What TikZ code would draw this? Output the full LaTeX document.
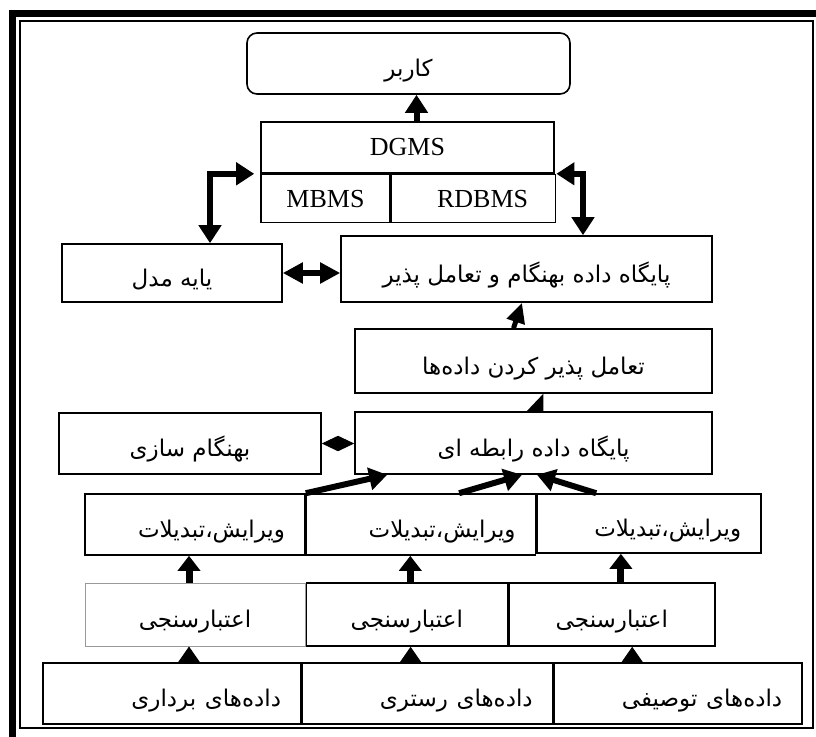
\documentclass[tikz,border=0pt]{standalone}
\usepackage{fontspec}
\setmainfont{Liberation Serif}
\newfontfamily\arabicfont[Script=Arabic]{DejaVu Sans}
\TeXXeTstate=1
\usetikzlibrary{positioning,arrows.meta}
\newcommand{\fa}[1]{\raisebox{-13pt}[0pt][0pt]{\arabicfont\fontsize{23}{27}\selectfont\beginR #1\endR}}
\tikzstyle{boxed} = [rectangle, draw=black, line width=1.6pt, inner sep=0pt, text centered, font=\fontsize{26}{30}\selectfont]
\tikzstyle{rightbox} = [boxed, inner xsep=20pt, align=right]
\tikzstyle{connect} = [line width=6pt,-{Triangle[width=22pt,length=18pt]}]
\tikzstyle{vconnect} = [line width=7pt,-{Triangle[width=22pt,length=15pt]}]
\tikzstyle{biconnect} = [line width=6pt,{Triangle[width=22pt,length=18pt]}-{Triangle[width=22pt,length=18pt]}]
\tikzstyle{headonly} = [line width=1pt,-{Triangle[width=22pt,length=16pt]}]

\begin{document}
\begin{tikzpicture}[x=1pt,y=-1pt]
\path[use as bounding box, clip] (0,0) rectangle (816,736);
% frame
\draw[line width=7pt] (12,13.5) rectangle (830,750);
\draw[line width=2pt] (20,21) rectangle (813,728);
%-----------------------------------------------
\node (user) [boxed, rounded corners=10pt, minimum width=323pt, minimum height=61pt] at (408.5,63.5) {\fa{کاربر}};
\node (dgms) [boxed, minimum width=293pt, minimum height=51pt] at (407.5,147.5) {DGMS};
\node (mbms) [boxed, minimum width=129pt, minimum height=48pt, anchor=north west] at (dgms.south west) {MBMS};
\node (rdbms) [boxed, minimum width=164pt, minimum height=48pt, right=0pt of mbms] {\hspace*{18pt}RDBMS};
%-----------------------------------------------
\node (model) [boxed, minimum width=220pt, minimum height=58pt] at (172,273) {\fa{یایه مدل}};
\node (syncdb) [boxed, minimum width=371pt, minimum height=66pt] at (526.5,269) {\fa{پایگاه داده بهنگام و تعامل پذیر}};
\node (interop) [boxed, minimum width=357pt, minimum height=64pt] at (533.5,361) {\fa{تعامل پذیر کردن داده‌ها}};
%-----------------------------------------------
\node (relational) [boxed, minimum width=357pt, minimum height=62pt] at (533.5,443) {\fa{پایگاه داده رابطه ای}};
\node (updating) [boxed, minimum width=262pt, minimum height=61pt] at (190,443.5) {\fa{بهنگام سازی}};
%-----------------------------------------------
\node (edit1) [rightbox, text width=180pt, minimum height=61pt] at (195,524.5) {\fa{ویرایش،تبدیلات}};
\node (edit2) [rightbox, text width=189pt, minimum height=61pt, right=0pt of edit1] {\fa{ویرایش،تبدیلات}};
\node (edit3) [rightbox, text width=184pt, minimum height=59pt, anchor=north west] at (edit2.north east) {\fa{ویرایش،تبدیلات}};
%-----------------------------------------------
\node (valid1) [boxed, draw=gray!80, line width=1pt, minimum width=220pt, minimum height=63pt] at (195,614.5) {\fa{اعتبارسنجی}};
\node (valid2) [boxed, minimum width=201pt, minimum height=63pt, right=0pt of valid1] {\fa{اعتبارسنجی}};
\node (valid3) [boxed, minimum width=206pt, minimum height=63pt, right=0pt of valid2] {\fa{اعتبارسنجی}};
%-----------------------------------------------
\node (data1) [rightbox, text width=218pt, minimum height=61pt] at (172,693.5) {\fa{داده‌های برداری}};
\node (data2) [rightbox, text width=210pt, minimum height=61pt, right=0pt of data1] {\fa{داده‌های رستری}};
\node (data3) [rightbox, text width=208pt, minimum height=61pt, right=0pt of data2] {\fa{داده‌های توصیفی}};
%-----------------------------------------------
%-----------------------------------------------
\draw [connect] ([xshift=9pt]dgms.north) -- ([xshift=9pt]dgms.north |- user.south);
\draw [biconnect] ([xshift=-6pt]mbms.north west) -| ([xshift=38pt]model.north);
\draw [biconnect] (rdbms.north east) -| ([xshift=56.5pt]syncdb.north);
\draw [line width=6pt,{Triangle[width=20pt,length=20pt]}-{Triangle[width=20pt,length=20pt]}] (model.east) -- (model.east -| syncdb.west);
\draw [line width=5pt,-{Triangle[width=18pt,length=20pt]}] ([xshift=-20pt]interop.north) -- ([xshift=-4.5pt]syncdb.south);
\draw [line width=1.5pt,-{Triangle[left,width=32pt,length=17pt]}] ([xshift=9pt]relational.north) -- ([xshift=9pt]interop.south);
\draw [line width=1pt,{Triangle[width=15pt,length=16pt]}-{Triangle[width=15pt,length=16pt]}] (updating.east) -- (updating.east -| relational.west);
%-----------------------------------------------
\draw [connect] (edit1.north east) -- ([xshift=33pt]relational.south west);
\draw [connect] ([xshift=38pt]edit2.north) -- ([xshift=-11.5pt]relational.south);
\draw [connect] ([xshift=-53pt]edit3.north) -- ([xshift=3.5pt]relational.south);
%-----------------------------------------------
\draw [vconnect] ([xshift=-6pt]valid1.north) -- ([xshift=-6pt]valid1.north |- edit1.south);
\draw [vconnect] ([xshift=3.5pt]valid2.north) -- ([xshift=3.5pt]valid2.north |- edit2.south);
\draw [vconnect] ([xshift=9pt]valid3.north) -- ([xshift=9pt]valid3.north |- edit3.south);
%-----------------------------------------------
\draw [headonly] ([xshift=17pt]data1.north) -- ([xshift=17pt]data1.north |- valid1.south);
\draw [headonly] ([xshift=-17pt]data2.north) -- ([xshift=-17pt]data2.north |- valid2.south);
\draw [headonly] ([xshift=-46pt]data3.north) -- ([xshift=-46pt]data3.north |- valid3.south);
\end{tikzpicture}
\end{document}
